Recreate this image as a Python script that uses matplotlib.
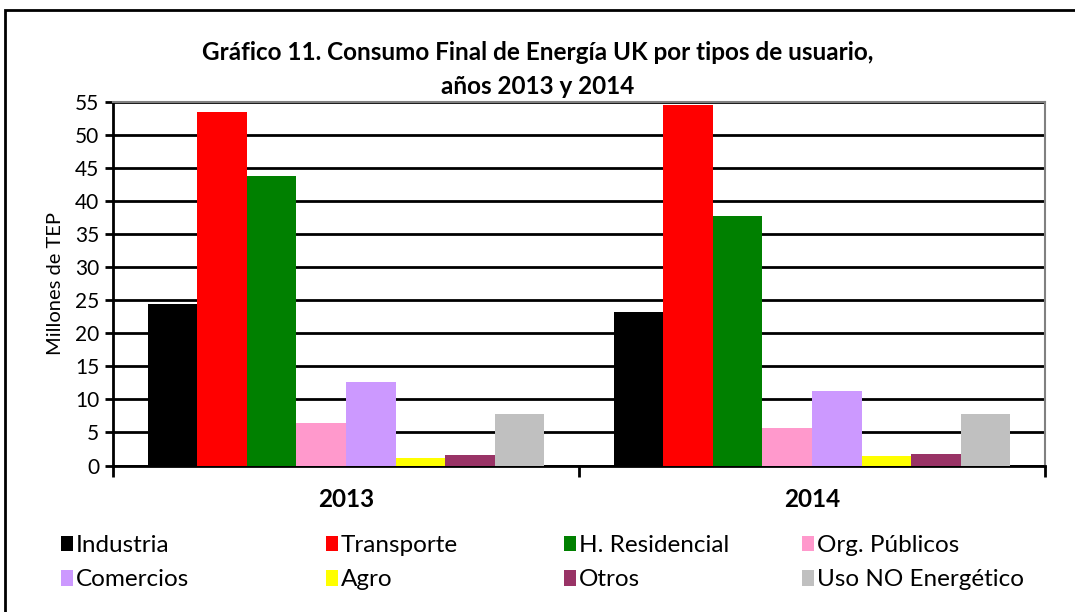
import matplotlib.pyplot as plt
import numpy as np
from matplotlib.patches import Rectangle

years = ['2013', '2014']
sectors = ['Industria', 'Transporte', 'H. Residencial', 'Org. Públicos',
           'Comercios', 'Agro', 'Otros', 'Uso NO Energético']
values_2013 = [24.5, 53.5, 43.8, 6.4, 12.6, 1.2, 1.6, 7.8]
values_2014 = [23.2, 54.6, 37.8, 5.7, 11.3, 1.4, 1.8, 7.8]
colors = ['#000000', '#FF0000', '#008000', '#FF99CC',
          '#CC99FF', '#FFFF00', '#993366', '#C0C0C0']

plt.rcParams['font.family'] = ['Lato', 'DejaVu Sans']

fig = plt.figure(figsize=(10.75, 6.12), dpi=100)
ax = fig.add_axes([113 / 1075, 1 - 465.5 / 612, 932 / 1075, 363.5 / 612])

# Outer frame of the chart (cut off at right and bottom as in the original)
fig.patches.append(Rectangle((5 / 1075, -0.1), 1.2, 1 - 10 / 612 + 0.1,
                             transform=fig.transFigure, fill=False,
                             edgecolor='black', linewidth=2))

x = np.arange(len(years))
group_width = 0.85
bar_w = group_width / len(sectors)
series = np.array([values_2013, values_2014]).T
handles = []
for i, (name, col) in enumerate(zip(sectors, colors)):
    offs = -group_width / 2 + bar_w * (i + 0.5)
    b = ax.bar(x + offs, series[i], width=bar_w, color=col, label=name,
               zorder=3, linewidth=0)
    handles.append(b)

ax.set_xlim(-0.5, 1.5)
ax.set_ylim(0, 55)
ax.set_yticks(range(0, 56, 5))
ax.yaxis.grid(True, color='black', linewidth=2, zorder=0)
ax.tick_params(axis='y', labelsize=15, length=6, width=2, direction='out',
               pad=4)

ax.set_xticks([-0.5, 0.5, 1.5])
ax.set_xticklabels([])
ax.set_xticks(x, minor=True)
ax.set_xticklabels(years, minor=True, fontsize=17.5, fontweight='bold')
ax.tick_params(axis='x', which='major', length=8, width=2, direction='out')
ax.tick_params(axis='x', which='minor', length=0, pad=16)

ax.spines['left'].set_linewidth(2)
ax.spines['bottom'].set_linewidth(2)
ax.spines['top'].set_color('#808080')
ax.spines['right'].set_color('#808080')
ax.spines['top'].set_linewidth(1.5)
ax.spines['right'].set_linewidth(1.5)

ax.set_ylabel('Millones de TEP', fontsize=14.5, labelpad=8)

fig.text(0.5, 1 - 52 / 612, 'Gráfico 11. Consumo Final de Energía UK por tipos de usuario,',
         ha='center', va='center', fontsize=17.5, fontweight='bold')
fig.text(0.5, 1 - 87 / 612, 'años 2013 y 2014',
         ha='center', va='center', fontsize=17.5, fontweight='bold')

# Legend: four columns, two rows (row-wise order)
col_x = [61, 326, 564, 802]
for j in range(4):
    hs = [handles[j], handles[j + 4]]
    ls = [sectors[j], sectors[j + 4]]
    leg = fig.legend(hs, ls, loc='upper left',
                     bbox_to_anchor=(col_x[j] / 1075, 1 - 535 / 612),
                     frameon=False, fontsize=17.5, handlelength=0.5,
                     handleheight=0.6, handletextpad=0.1, labelspacing=0.55,
                     borderaxespad=0, borderpad=0)

fig.savefig('out.png', dpi=100)
